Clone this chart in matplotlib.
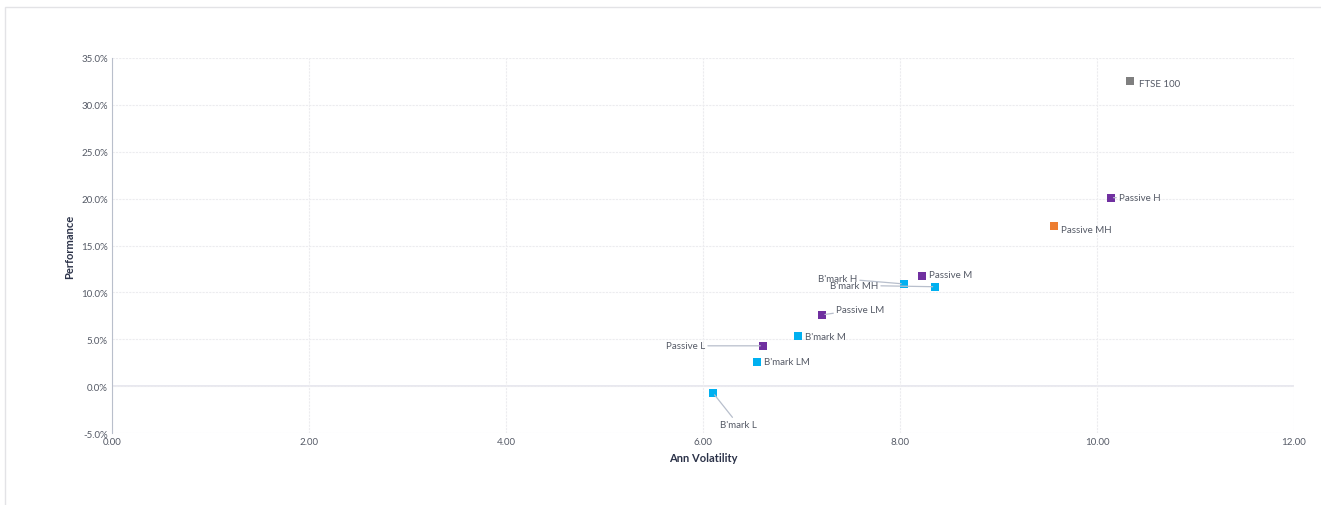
import matplotlib
matplotlib.use('Agg')
import matplotlib.pyplot as plt
from matplotlib.ticker import FuncFormatter, MultipleLocator
from matplotlib.patches import Rectangle

# data
names = ['FTSE 100', 'Passive H', 'Passive MH', 'Passive M', "B'mark H", "B'mark MH",
         'Passive LM', "B'mark M", 'Passive L', "B'mark LM", "B'mark L"]
volatility = [10.34, 10.14, 9.56, 8.22, 8.04, 8.36, 7.21, 6.96, 6.61, 6.55, 6.10]
performance = [32.6, 20.1, 17.1, 11.8, 10.9, 10.6, 7.6, 5.3, 4.3, 2.6, -0.7]
groups = ['index', 'passive', 'passive_mh', 'passive', 'bmark', 'bmark',
          'passive', 'bmark', 'passive', 'bmark', 'bmark']

colors = {'index': '#7f7f7f', 'passive': '#7030a0', 'passive_mh': '#ed7d31', 'bmark': '#00b0f0'}

# label offsets in points (dx, dy), and whether a leader line is drawn
label_pos = {
    'FTSE 100': (6, -2, False),
    'Passive H': (6, 0, True),
    'Passive MH': (5, -3, False),
    'Passive M': (5, 1, False),
    "B'mark H": (-62, 4, True),
    "B'mark MH": (-76, 1, True),
    'Passive LM': (10, 4, True),
    "B'mark M": (5, 0, False),
    'Passive L': (-70, 0, True),
    "B'mark LM": (5, 0, False),
    "B'mark L": (5, -23, True),
}

text_col = '#555a66'
label_col = '#2b3248'

fig = plt.figure(figsize=(13.21, 5.06), dpi=100)
fig.patches.append(Rectangle((5 / 1321, -0.01), 1.1, (506 - 8) / 506 + 0.01,
                             transform=fig.transFigure, fill=False,
                             edgecolor='#e3e3e6', linewidth=1))
ax = fig.add_axes([112 / 1321, 1 - 434 / 506, (1294 - 112) / 1321, (434 - 59) / 506])

for x, y, g in zip(volatility, performance, groups):
    ax.scatter(x, y, marker='s', s=34, color=colors[g], zorder=3, linewidths=0)

for n, x, y in zip(names, volatility, performance):
    dx, dy, line = label_pos[n]
    ax.annotate(n, (x, y), xytext=(dx, dy), textcoords='offset points',
                fontsize=7, color=text_col, va='center', ha='left',
                fontfamily='Lato',
                arrowprops=dict(arrowstyle='-', color='#b8bfcc', lw=0.9,
                                shrinkA=0, shrinkB=2) if line else None)

ax.set_xlim(0, 12)
ax.set_ylim(-5, 35)
ax.xaxis.set_major_locator(MultipleLocator(2))
ax.yaxis.set_major_locator(MultipleLocator(5))
ax.xaxis.set_major_formatter(FuncFormatter(lambda v, p: f'{v:.2f}'))
ax.yaxis.set_major_formatter(FuncFormatter(lambda v, p: f'{v:.1f}%'))

ax.grid(True, color='#ececef', linestyle=(0, (2, 1)), linewidth=0.8)
ax.axhline(0, color='#e4e4ec', linewidth=1.2, zorder=1)
for s in ['top', 'right', 'bottom']:
    ax.spines[s].set_visible(False)
ax.spines['left'].set_color('#b9bfcb')
ax.tick_params(length=0, labelsize=7, colors=text_col, pad=3)
for lbl in ax.get_xticklabels() + ax.get_yticklabels():
    lbl.set_fontfamily('Lato')

ax.set_xlabel('Ann Volatility', fontsize=8, fontweight='bold', color=label_col,
              fontfamily='Lato', labelpad=4)
ax.set_ylabel('Performance', fontsize=8, fontweight='bold', color=label_col,
              fontfamily='Lato', labelpad=4)

plt.savefig('out.png', dpi=100)
